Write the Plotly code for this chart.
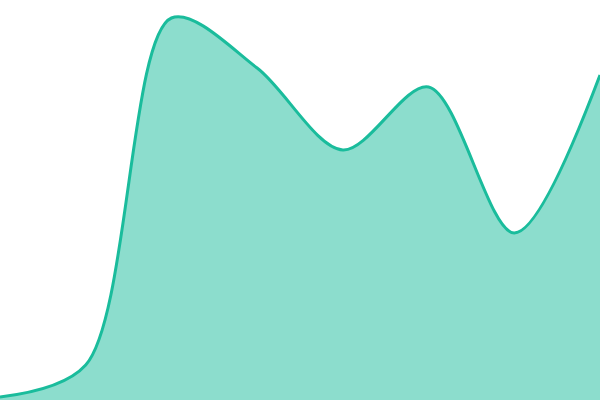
import plotly.graph_objects as go

# Datenpunkte (gleichmaessig verteilt)
idx = [0, 1, 2, 3, 4, 5, 6, 7]
werte = [3, 35, 382, 332, 250, 313, 167, 325]

fig = go.Figure()
fig.add_trace(go.Scatter(
    x=idx, y=werte,
    mode="lines",
    line=dict(color="#1abc9c", width=3, shape="spline", smoothing=0.9),
    fill="tozeroy",
    fillcolor="rgba(26,188,156,0.5)",
    hoverinfo="skip",
))

fig.update_layout(
    width=600, height=400,
    margin=dict(l=0, r=0, t=0, b=0),
    paper_bgcolor="white", plot_bgcolor="white",
    showlegend=False,
)
fig.update_xaxes(visible=False, range=[0, 7])
fig.update_yaxes(visible=False, range=[0, 400])

# Body-Rand entfernen, damit die Grafik das Fenster fuellt
fig.write_html("out.html", config={"displayModeBar": False},
               post_script="document.body.style.margin='0';")
